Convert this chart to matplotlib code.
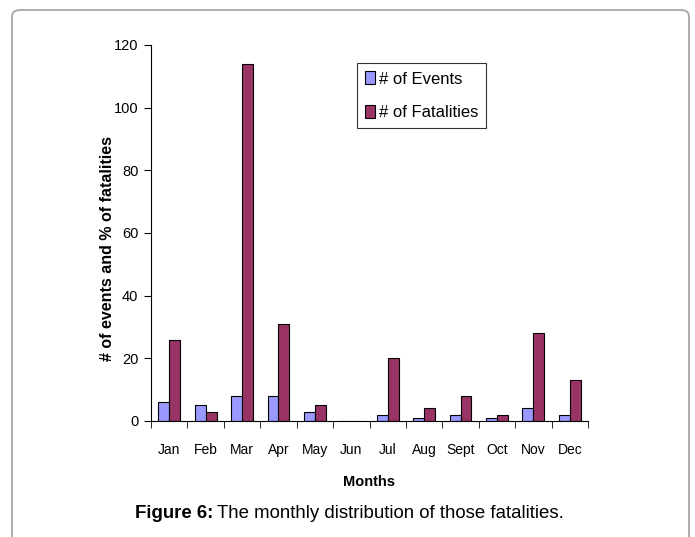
import matplotlib
matplotlib.use("Agg")
import matplotlib.pyplot as plt
from matplotlib.patches import FancyBboxPatch
import numpy as np

months = ["Jan", "Feb", "Mar", "Apr", "May", "Jun", "Jul", "Aug", "Sept", "Oct", "Nov", "Dec"]
events = [6, 5, 8, 8, 3, 0, 2, 1, 2, 1, 4, 2]
fatalities = [26, 3, 114, 31, 5, 0, 20, 4, 8, 2, 28, 13]

arial = ["Liberation Sans", "DejaVu Sans"]

fig = plt.figure(figsize=(6.95, 5.37), dpi=100)

# rounded outer frame, open at the bottom
frame = FancyBboxPatch((12 / 695, -0.2), 677 / 695, (527 / 537) + 0.2,
                       boxstyle="round,pad=0,rounding_size=0.012",
                       transform=fig.transFigure, fill=False,
                       edgecolor="#a6a6a6", linewidth=1.3)
fig.patches.append(frame)

ax = fig.add_axes([151 / 695, 116 / 537, 437 / 695, 376 / 537])

x = np.arange(len(months))
w = 0.3
ax.bar(x - w / 2, events, w, color="#9999ff", edgecolor="black", linewidth=0.8, label="# of Events")
ax.bar(x + w / 2, fatalities, w, color="#993366", edgecolor="black", linewidth=0.8, label="# of Fatalities")

ax.set_xlim(-0.5, len(months) - 0.5)
ax.set_ylim(0, 120)
ax.set_yticks(range(0, 121, 20))
ax.set_xticks(x)
ax.set_xticklabels(months, family=arial, fontsize=10)
ax.set_xticks(np.arange(-0.5, len(months) + 0.5, 1), minor=True)
ax.tick_params(axis="x", which="major", length=0, pad=16)
ax.tick_params(axis="x", which="minor", length=5, direction="out")
ax.tick_params(axis="y", length=5, direction="out", pad=4)
for lab in ax.get_yticklabels():
    lab.set_family(arial)
    lab.set_fontsize(10.5)

for s in ["top", "right"]:
    ax.spines[s].set_visible(False)

ax.set_ylabel("# of events and % of fatalities", family=arial, fontsize=11.5,
              fontweight="bold")
ax.yaxis.set_label_coords(-0.082, 0.46)
ax.set_xlabel("Months", family=arial, fontsize=10.5, fontweight="bold", labelpad=13)

leg = ax.legend(loc="upper left", bbox_to_anchor=(206 / 437, 1 - 18 / 376),
                prop={"family": arial, "size": 12}, frameon=True, fancybox=False,
                edgecolor="black", handlelength=0.6, handleheight=0.8,
                handletextpad=0.2, borderpad=0.5, labelspacing=1.1,
                borderaxespad=0)
leg.get_frame().set_linewidth(0.8)

t1 = fig.text(135 / 695, 1 - 514 / 537, "Figure 6:", family=arial, fontsize=13.4,
              fontweight="bold", va="center", ha="left")
fig.canvas.draw()
bb = t1.get_window_extent()
fig.text((bb.x1 + 4) / 695, 1 - 514 / 537, "The monthly distribution of those fatalities.",
         family=arial, fontsize=13.4, va="center", ha="left")

fig.savefig("out.png", dpi=100)
